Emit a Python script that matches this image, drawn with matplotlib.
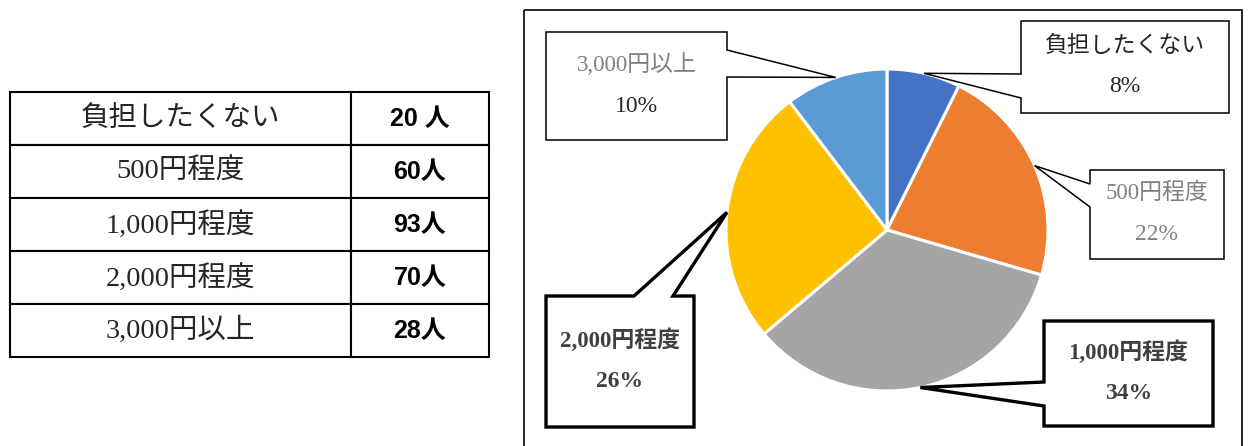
import numpy as np
import matplotlib.pyplot as plt
from matplotlib.patches import Polygon, Rectangle

# data
categories = ['負担したくない', '500円程度', '1,000円程度', '2,000円程度', '3,000円以上']
counts = [20, 60, 93, 70, 28]
count_labels = ['20 人', '60人', '93人', '70人', '28人']
pct_labels = ['8%', '22%', '34%', '26%', '10%']
colors = ['#4472C4', '#ED7D31', '#A5A5A5', '#FFC000', '#5B9BD5']

serif = ['Liberation Serif', 'Noto Sans CJK JP']
sans = ['Liberation Sans', 'Noto Sans CJK JP']

W, H = 1248, 446
fig = plt.figure(figsize=(W / 100, H / 100), dpi=100)
ax = fig.add_axes([0, 0, 1, 1])

# pie (y axis is inverted -> counterclockwise in data = clockwise on screen)
cx, cy, r = 887, 230, 161
ax.pie(counts, colors=colors, startangle=-90, counterclock=True,
       center=(cx, cy), radius=r,
       wedgeprops=dict(edgecolor='white', linewidth=2.2))
ax.set_xlim(0, W)
ax.set_ylim(H, 0)
ax.set_aspect('auto')
ax.axis('off')

# chart border
ax.add_patch(Rectangle((524, 10), 718, 440, fill=False, edgecolor='#262626',
                       linewidth=1.4, clip_on=False))

# callout tips at wedge mid-angles on the pie edge
frac = np.array(counts) / np.sum(counts)
mid = (np.cumsum(frac) - frac / 2) * 2 * np.pi
tips = [(cx + r * np.sin(a), cy - r * np.cos(a)) for a in mid]

# callout layout: box (x0, y0, x1, y1), tail side, tail base, text style
callouts = [
    dict(box=(1021, 21, 1229, 113), side='left', base=(74, 98), lw=1.1,
         c1='#262626', c2='#262626', bold=False),
    dict(box=(1090, 170, 1224, 259), side='left', base=(184, 207), lw=1.1,
         c1='#808080', c2='#808080', bold=False),
    dict(box=(1044, 321, 1213, 426), side='left', base=(382, 406), lw=2.4,
         c1='#404040', c2='#404040', bold=True),
    dict(box=(546, 296, 694, 427), side='top', base=(634, 673), lw=2.4,
         c1='#404040', c2='#404040', bold=True),
    dict(box=(546, 32, 727, 140), side='right', base=(50, 77), lw=1.1,
         c1='#808080', c2='#262626', bold=False),
]

for i, co in enumerate(callouts):
    x0, y0, x1, y1 = co['box']
    b1, b2 = co['base']
    tx, ty = tips[i]
    if co['side'] == 'left':
        pts = [(x0, y0), (x1, y0), (x1, y1), (x0, y1), (x0, b2), (tx, ty), (x0, b1)]
    elif co['side'] == 'right':
        pts = [(x0, y0), (x1, y0), (x1, b1), (tx, ty), (x1, b2), (x1, y1), (x0, y1)]
    else:
        pts = [(x0, y0), (b1, y0), (tx, ty), (b2, y0), (x1, y0), (x1, y1), (x0, y1)]
    ax.add_patch(Polygon(pts, closed=True, facecolor='white', edgecolor='black',
                         linewidth=co['lw'], joinstyle='miter', zorder=3))
    xc = (x0 + x1) / 2
    yc = (y0 + y1) / 2
    fw = 'bold' if co['bold'] else 'normal'
    ax.text(xc, yc - 21, categories[i], ha='center', va='center', fontsize=16.5,
            color=co['c1'], family=serif, fontweight=fw, zorder=4)
    ax.text(xc, yc + 20, pct_labels[i], ha='center', va='center', fontsize=17,
            color=co['c2'], family=serif, fontweight=fw, zorder=4)

# table on the left
tx0, ty0, tx1, ty1 = 10, 92, 489, 357
tbl = ax.table(cellText=[[c, n] for c, n in zip(categories, count_labels)],
               cellLoc='center', colWidths=[341 / 479, 138 / 479],
               bbox=[tx0 / W, 1 - ty1 / H, (tx1 - tx0) / W, (ty1 - ty0) / H])
tbl.auto_set_font_size(False)
for (row, col), cell in tbl.get_celld().items():
    cell.set_linewidth(1.5)
    cell.set_edgecolor('black')
    t = cell.get_text()
    if col == 0:
        t.set_fontfamily(serif)
        t.set_fontsize(20.5)
        t.set_color('#262626')
    else:
        t.set_fontfamily(sans)
        t.set_fontsize(18)
        t.set_fontweight('bold')
        t.set_color('black')

fig.savefig('out.png', dpi=100)
